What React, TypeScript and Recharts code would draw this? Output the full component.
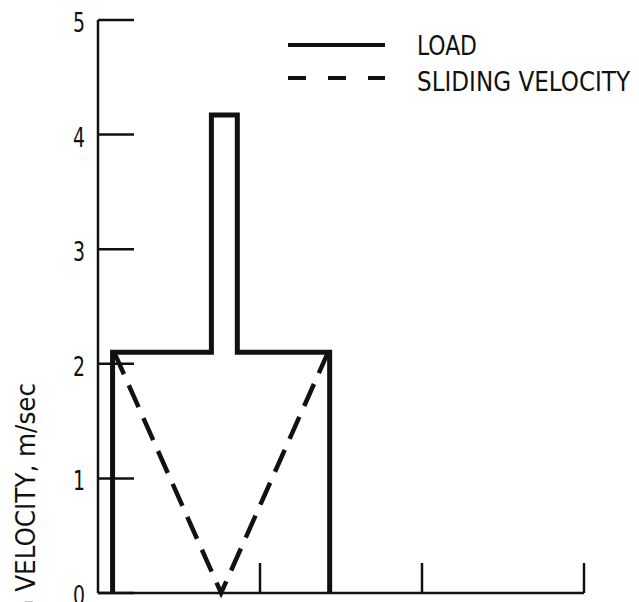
import { LineChart, Line, XAxis, YAxis } from 'recharts';

// load trace (time units vs. load)
const loadX = [0.09, 0.09, 0.7, 0.7, 0.86, 0.86, 1.43, 1.43];
const loadY = [0, 2.1, 2.1, 4.17, 4.17, 2.1, 2.1, 0];

// sliding velocity trace
const velX = [0.1, 0.76, 1.42];
const velY = [2.1, 0, 2.1];

const xTicks = [0, 1, 2, 3];
const yTicks = [0, 1, 2, 3, 4, 5];

const loadData = loadX.map((x, i) => ({ x, y: loadY[i] }));
const velData = velX.map((x, i) => ({ x, y: velY[i] }));

const FONT = "'Liberation Sans Narrow', 'DejaVu Sans Condensed', 'Noto Sans', sans-serif";
const INK = '#111';

function XTick(props: any) {
  const { x, y, payload } = props;
  if (payload.value === 0) return <g />;
  return <line x1={x} y1={y} x2={x} y2={y - 30} stroke={INK} strokeWidth={2.5} />;
}

function YTick(props: any) {
  const { x, y, payload } = props;
  return (
    <g>
      <line x1={x} y1={y} x2={x + 36} y2={y} stroke={INK} strokeWidth={2.5} />
      <text
        x={x - 25}
        y={y + 12}
        fontFamily={FONT}
        fontSize={26}
        fill={INK}
        textLength={12}
        lengthAdjust="spacingAndGlyphs"
      >
        {payload.value}
      </text>
    </g>
  );
}

function AxisTitle() {
  return (
    <text
      x={35}
      y={383}
      transform="rotate(-90, 35, 383)"
      textAnchor="end"
      fontFamily={FONT}
      fontSize={27}
      fill={INK}
      textLength={317}
      lengthAdjust="spacingAndGlyphs"
    >
      SLIDING VELOCITY, m/sec
    </text>
  );
}

export default function App() {
  return (
    <div style={{ position: 'absolute', left: 0, top: 0, width: 639, height: 602, background: '#fff' }}>
      <LineChart
        width={639}
        height={602}
        margin={{ top: 20, right: 55, bottom: 8, left: 38 }}
      >
        <XAxis
          dataKey="x"
          type="number"
          domain={[0, 3]}
          ticks={xTicks}
          tick={XTick}
          tickLine={false}
          tickSize={0}
          tickMargin={0}
          height={1}
          axisLine={{ stroke: INK, strokeWidth: 2.5 }}
          allowDuplicatedCategory={false}
        />
        <YAxis
          type="number"
          domain={[0, 5]}
          ticks={yTicks}
          tick={YTick}
          tickLine={false}
          tickSize={0}
          tickMargin={0}
          width={60}
          axisLine={{ stroke: INK, strokeWidth: 2.5 }}
          label={<AxisTitle />}
        />
        <Line
          data={loadData}
          dataKey="y"
          type="linear"
          stroke={INK}
          strokeWidth={5}
          strokeLinejoin="miter"
          dot={false}
          isAnimationActive={false}
        />
        <Line
          data={velData}
          dataKey="y"
          type="linear"
          stroke={INK}
          strokeWidth={4.5}
          strokeDasharray="24 12"
          dot={false}
          isAnimationActive={false}
        />
      </LineChart>
      <svg
        width={639}
        height={110}
        style={{ position: 'absolute', left: 0, top: 0, pointerEvents: 'none' }}
      >
        <line x1={288} y1={45} x2={385} y2={45} stroke={INK} strokeWidth={4} />
        <line x1={288} y1={78} x2={385} y2={78} stroke={INK} strokeWidth={4} strokeDasharray="18 22" />
        <text x={417} y={55} fontFamily={FONT} fontSize={27} fill={INK} textLength={60} lengthAdjust="spacingAndGlyphs">
          LOAD
        </text>
        <text x={417} y={91} fontFamily={FONT} fontSize={27} fill={INK} textLength={213} lengthAdjust="spacingAndGlyphs">
          SLIDING VELOCITY
        </text>
      </svg>
    </div>
  );
}
